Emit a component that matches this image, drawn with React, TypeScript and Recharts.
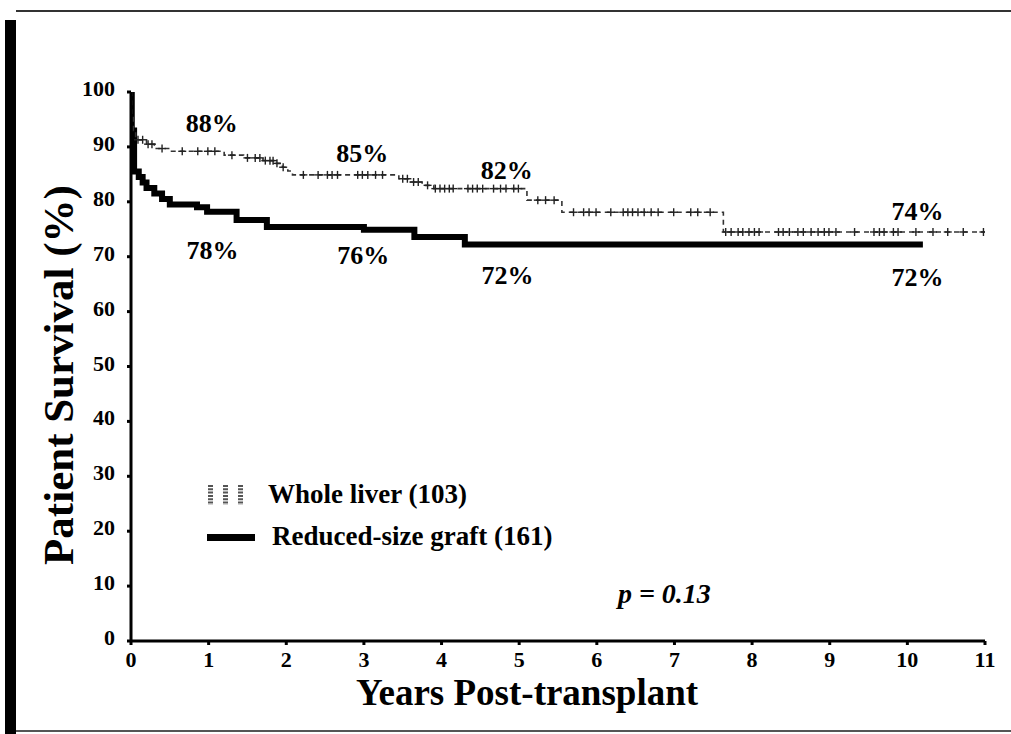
import React from 'react';
import { ComposedChart, Line, Scatter, XAxis, YAxis, Legend, ReferenceDot, Label } from 'recharts';

const FONT = '"Liberation Serif", "Times New Roman", Times, serif';

// Axis ticks
const yearTicks = [0, 1, 2, 3, 4, 5, 6, 7, 8, 9, 10, 11];
const survivalTicks = [0, 10, 20, 30, 40, 50, 60, 70, 80, 90, 100];

// Whole liver (103) Kaplan-Meier steps
const wholeLiverTimes = [0, 0.01, 0.03, 0.06, 0.2, 0.3, 0.5, 1.2, 1.45, 1.7, 1.85, 1.95, 2.02, 2.08, 3.45, 3.6, 3.75, 3.9, 5.1, 5.55, 7.63, 11];
const wholeLiverSurvival = [100, 96, 93, 91.3, 90.5, 89.7, 89.2, 88.5, 88.0, 87.5, 87.0, 86.3, 85.6, 84.9, 84.2, 83.6, 83.0, 82.4, 80.3, 78.1, 74.5, 74.5];
// Censored observations (years)
const wholeLiverCensored = [
  0.09, 0.15, 0.22, 0.27, 0.4, 0.66, 0.86, 0.99, 1.08, 1.3, 1.5, 1.6, 1.66, 1.73, 1.79, 1.83, 1.88, 1.96,
  2.22, 2.41, 2.53, 2.59, 2.66, 2.92, 2.98, 3.05, 3.15, 3.24, 3.5, 3.56, 3.64, 3.7, 3.82, 3.92, 3.98,
  4.04, 4.1, 4.15, 4.34, 4.4, 4.46, 4.53, 4.67, 4.76, 4.83, 4.93, 4.99, 5.24, 5.34, 5.45, 5.7, 5.83,
  5.9, 5.99, 6.18, 6.34, 6.4, 6.46, 6.53, 6.61, 6.7, 6.79, 6.99, 7.21, 7.3, 7.46, 7.66, 7.73, 7.82,
  7.88, 7.96, 8.03, 8.09, 8.34, 8.4, 8.48, 8.59, 8.66, 8.76, 8.85, 8.93, 8.99, 9.08, 9.32, 9.57, 9.64,
  9.7, 9.82, 9.88, 10.11, 10.33, 10.52, 10.72, 10.98,
];

// Reduced-size graft (161) Kaplan-Meier steps
const reducedTimes = [0, 0.01, 0.04, 0.1, 0.15, 0.2, 0.3, 0.4, 0.5, 0.85, 0.98, 1.36, 1.75, 3.0, 3.65, 4.3, 10.2];
const reducedSurvival = [100, 93, 85.5, 84.5, 83.5, 82.5, 81.5, 80.5, 79.5, 79, 78.2, 76.7, 75.4, 74.9, 73.6, 72.2, 72.2];

// Percent annotations
const annotationText = ['88%', '85%', '82%', '74%', '78%', '76%', '72%', '72%'];
const annotationX = [1.04, 2.98, 4.84, 10.13, 1.05, 2.99, 4.85, 10.13];
const annotationY = [94.4, 89.0, 85.8, 78.3, 71.2, 70.3, 66.7, 66.4];

const pValueText = 'p = 0.13';
const pValueX = 6.87;
const pValueY = 8.7;

const survivalAt = (times: number[], surv: number[], t: number) => {
  let v = surv[0];
  for (let i = 0; i < times.length; i++) if (times[i] <= t) v = surv[i];
  return v;
};

const wholeData = wholeLiverTimes.map((t, i) => ({ x: t, y: wholeLiverSurvival[i] }));
const reducedData = reducedTimes.map((t, i) => ({ x: t, y: reducedSurvival[i] }));
const censorData = wholeLiverCensored.map((t) => ({ x: t, y: survivalAt(wholeLiverTimes, wholeLiverSurvival, t) }));

const CensorMark = (props: any) => {
  const { cx, cy } = props;
  if (cx == null || cy == null) return null;
  return (
    <g stroke="#222" strokeWidth={1.4} fill="none">
      <line x1={cx - 4} x2={cx + 4} y1={cy} y2={cy} />
      <line x1={cx} x2={cx} y1={cy - 4} y2={cy + 4} />
    </g>
  );
};

const XTick = (props: any) => {
  const { x, y, payload } = props;
  return (
    <text x={x} y={y} dy={16} textAnchor="middle" fontFamily={FONT} fontWeight="bold" fontSize={22} fill="#000">
      {payload.value}
    </text>
  );
};

const YTick = (props: any) => {
  const { x, y, payload } = props;
  return (
    <text x={x} y={y} dy={4} textAnchor="end" fontFamily={FONT} fontWeight="bold" fontSize={22} fill="#000">
      {payload.value}
    </text>
  );
};

const LegendContent = () => (
  <svg width={420} height={110} style={{ display: 'block', overflow: 'visible' }}>
    {[8, 23, 38].map((bx) => (
      <line key={bx} x1={bx + 2.5} x2={bx + 2.5} y1={15} y2={35} stroke="#555" strokeWidth={5} strokeDasharray="2 1.3" />
    ))}
    <text x={68} y={33} fontFamily={FONT} fontWeight="bold" fontSize={27} fill="#000">Whole liver (103)</text>
    <rect x={7} y={64} width={48} height={7} fill="#000" />
    <text x={72} y={75} fontFamily={FONT} fontWeight="bold" fontSize={27} fill="#000">Reduced-size graft (161)</text>
  </svg>
);

export default function App() {
  return (
    <div style={{ position: 'absolute', left: 0, top: 0, width: 1011, height: 734, background: '#fff', overflow: 'hidden' }}>
      {/* page frame */}
      <div style={{ position: 'absolute', left: 5, top: 20, width: 11, height: 714, background: '#000' }} />
      <div style={{ position: 'absolute', left: 16, top: 10, width: 995, height: 2, background: '#333' }} />
      <div style={{ position: 'absolute', left: 16, top: 730, width: 995, height: 2, background: '#555' }} />
      <ComposedChart
        width={1011}
        height={734}
        margin={{ top: 92, right: 26, bottom: 53, left: 71 }}
        style={{ position: 'absolute', left: 0, top: 0 }}
      >
        <XAxis
          xAxisId="main"
          dataKey="x"
          type="number"
          domain={[0, 11]}
          ticks={yearTicks}
          interval={0}
          height={40}
          allowDataOverflow
          axisLine={{ stroke: '#000', strokeWidth: 3 }}
          tickLine={{ stroke: '#000', strokeWidth: 3 }}
          tickSize={4}
          tickMargin={6}
          tick={<XTick />}
        >
          <Label
            content={(props: any) => {
              const vb = props.viewBox || { x: 131, y: 641 };
              return (
                <text x={vb.x + 396} y={vb.y + 64} textAnchor="middle" fontFamily={FONT} fontWeight="bold" fontSize={37} fill="#000">
                  Years Post-transplant
                </text>
              );
            }}
          />
        </XAxis>
        <XAxis xAxisId="top" orientation="top" type="number" domain={[0, 11]} height={0} tick={false} tickLine={false} axisLine={{ stroke: '#000', strokeWidth: 3 }} />
        <YAxis
          yAxisId="main"
          type="number"
          domain={[0, 100]}
          ticks={survivalTicks}
          interval={0}
          width={60}
          allowDataOverflow
          axisLine={{ stroke: '#000', strokeWidth: 3 }}
          tickLine={{ stroke: '#000', strokeWidth: 3 }}
          tickSize={4}
          tickMargin={12}
          tick={<YTick />}
        >
          <Label
            content={(props: any) => {
              const vb = props.viewBox || { x: 71, y: 92, height: 549 };
              const cx = vb.x + 2;
              const cy = vb.y + 283;
              return (
                <text x={cx} y={cy} transform={`rotate(-90, ${cx}, ${cy})`} textAnchor="middle" fontFamily={FONT} fontWeight="bold" fontSize={43} fill="#000">
                  Patient Survival (%)
                </text>
              );
            }}
          />
        </YAxis>
        <YAxis yAxisId="right" orientation="right" type="number" domain={[0, 100]} width={0} tick={false} tickLine={false} axisLine={{ stroke: '#000', strokeWidth: 3 }} />
        <Legend
          layout="horizontal"
          verticalAlign="middle"
          align="center"
          content={<LegendContent />}
          wrapperStyle={{ position: 'absolute', left: 200, top: 470, width: 420, height: 110 }}
        />
        <Line
          xAxisId="main"
          yAxisId="main"
          data={reducedData}
          dataKey="y"
          type="stepAfter"
          stroke="#000"
          strokeWidth={6}
          dot={false}
          activeDot={false}
          isAnimationActive={false}
          legendType="none"
        />
        <Line
          xAxisId="main"
          yAxisId="main"
          data={wholeData}
          dataKey="y"
          type="stepAfter"
          stroke="#333"
          strokeWidth={1.6}
          strokeDasharray="5 4"
          dot={false}
          activeDot={false}
          isAnimationActive={false}
          legendType="none"
        />
        <Scatter
          xAxisId="main"
          yAxisId="main"
          data={censorData}
          dataKey="y"
          shape={<CensorMark />}
          isAnimationActive={false}
          legendType="none"
        />
        {annotationText.map((t, i) => (
          <ReferenceDot
            key={i}
            xAxisId="main"
            yAxisId="main"
            x={annotationX[i]}
            y={annotationY[i]}
            r={0}
            fill="none"
            stroke="none"
            label={{ value: t, position: 'center', fontFamily: FONT, fontWeight: 'bold', fontSize: 26, fill: '#000' }}
          />
        ))}
        <ReferenceDot
          xAxisId="main"
          yAxisId="main"
          x={pValueX}
          y={pValueY}
          r={0}
          fill="none"
          stroke="none"
          label={{ value: pValueText, position: 'center', fontFamily: FONT, fontWeight: 'bold', fontStyle: 'italic', fontSize: 28, fill: '#000' }}
        />
      </ComposedChart>
    </div>
  );
}
